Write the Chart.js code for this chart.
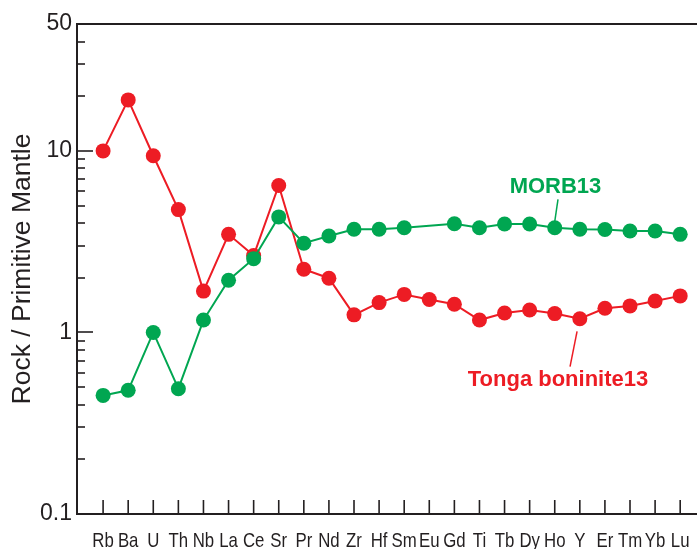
<!DOCTYPE html>
<html>
<head>
<meta charset="utf-8">
<title>Rock / Primitive Mantle</title>
<script src="https://cdn.jsdelivr.net/npm/chart.js@4/dist/chart.umd.min.js"></script>
<style>
  html, body { margin: 0; padding: 0; background: #ffffff; }
  #wrap { width: 697px; height: 549px; }
</style>
</head>
<body>
<div id="wrap"><canvas id="spider" width="697" height="549"></canvas></div>
<script>
// Element order along the x axis
const categories = ['Rb','Ba','U','Th','Nb','La','Ce','Sr','Pr','Nd','Zr','Hf','Sm','Eu','Gd','Ti','Tb','Dy','Ho','Y','Er','Tm','Yb','Lu'];

// Primitive-mantle normalised abundances (null = not reported)
const morb13 = [0.45, 0.48, 1.00, 0.49, 1.17, 1.94, 2.55, 4.33, 3.10, 3.40, 3.70, 3.70, 3.77, null, 3.97, 3.77, 3.96, 3.96, 3.77, 3.70, 3.69, 3.62, 3.62, 3.47];
const tongaBoninite13 = [10.0, 19.1, 9.4, 4.75, 1.69, 3.47, 2.65, 6.45, 2.23, 1.99, 1.25, 1.46, 1.62, 1.52, 1.43, 1.17, 1.28, 1.33, 1.27, 1.19, 1.36, 1.40, 1.49, 1.59];

// Labelled y ticks and the unlabelled minor ticks of the log axis
const yTickLabels = [0.1, 1, 10, 50];
const yMinorTicks = [0.2, 0.3, 0.4, 0.5, 0.6, 0.7, 0.8, 0.9, 2, 3, 4, 5, 6, 7, 8, 9, 20, 30, 40];

const INK = '#231f20';
const RED = '#ed1c24';
const GREEN = '#00a651';
const SANS = '"Liberation Sans", Arial, Helvetica, sans-serif';

// Series name tags with leader lines, anchored in data units
const seriesTags = [
  { text: 'MORB13', color: GREEN, at: [18.03, 5.85], leader: [[18.13, 5.40], [18.0, 4.08]] },
  { text: 'Tonga boninite13', color: RED, at: [18.13, 0.51], leader: [[18.89, 1.015], [18.61, 0.648]] }
];

const toPoints = arr => arr.map((v, i) => ({ x: i, y: v }));

const axisDecor = {
  id: 'axisDecor',
  afterDraw(chart) {
    const { ctx, chartArea: a, scales: { x, y } } = chart;
    ctx.save();
    ctx.strokeStyle = INK;
    ctx.lineCap = 'butt';

    // top frame line
    ctx.lineWidth = 2;
    ctx.beginPath();
    ctx.moveTo(a.left - 1, a.top);
    ctx.lineTo(chart.width, a.top);
    ctx.stroke();

    // inward ticks on the log axis
    ctx.lineWidth = 1.6;
    const yTick = (v, len) => {
      const py = Math.round(y.getPixelForValue(v));
      ctx.beginPath();
      ctx.moveTo(a.left, py);
      ctx.lineTo(a.left + len, py);
      ctx.stroke();
    };
    yTickLabels.filter(v => v !== 50 && v !== 0.1).forEach(v => yTick(v, 16));
    yMinorTicks.forEach(v => yTick(v, 8));

    // inward ticks and condensed element labels along the x axis
    ctx.fillStyle = INK;
    ctx.font = '21px ' + SANS;
    ctx.textAlign = 'center';
    ctx.textBaseline = 'alphabetic';
    categories.forEach((name, i) => {
      const px = x.getPixelForValue(i);
      ctx.beginPath();
      ctx.moveTo(px, a.bottom);
      ctx.lineTo(px, a.bottom - 14);
      ctx.stroke();
      ctx.save();
      ctx.translate(px, a.bottom + 33);
      ctx.scale(0.8, 1);
      ctx.fillText(name, 0, 0);
      ctx.restore();
    });

    // series tags
    seriesTags.forEach(t => {
      ctx.strokeStyle = t.color;
      ctx.lineWidth = 1.5;
      ctx.beginPath();
      ctx.moveTo(x.getPixelForValue(t.leader[0][0]), y.getPixelForValue(t.leader[0][1]));
      ctx.lineTo(x.getPixelForValue(t.leader[1][0]), y.getPixelForValue(t.leader[1][1]));
      ctx.stroke();
      ctx.fillStyle = t.color;
      ctx.font = 'bold 22px ' + SANS;
      ctx.textAlign = 'center';
      ctx.textBaseline = 'alphabetic';
      ctx.fillText(t.text, x.getPixelForValue(t.at[0]), y.getPixelForValue(t.at[1]));
    });
    ctx.restore();
  }
};

new Chart(document.getElementById('spider'), {
  type: 'line',
  data: {
    datasets: [
      {
        label: 'MORB13',
        data: toPoints(morb13),
        borderColor: GREEN,
        backgroundColor: GREEN,
        pointBackgroundColor: GREEN,
        borderWidth: 2,
        pointRadius: 7.5,
        pointBorderWidth: 0,
        spanGaps: true,
        order: 0
      },
      {
        label: 'Tonga boninite13',
        data: toPoints(tongaBoninite13),
        borderColor: RED,
        backgroundColor: RED,
        pointBackgroundColor: RED,
        borderWidth: 2,
        pointRadius: 7.5,
        pointBorderWidth: 0,
        order: 1
      }
    ]
  },
  options: {
    responsive: false,
    animation: false,
    devicePixelRatio: 1,
    clip: false,
    layout: { autoPadding: false, padding: { top: 24, right: 0, left: 0, bottom: 0 } },
    plugins: { legend: { display: false }, tooltip: { enabled: false } },
    elements: { line: { tension: 0 } },
    scales: {
      x: {
        type: 'linear',
        min: -1.04,
        max: 23.67,
        afterBuildTicks: s => { s.ticks = categories.map((_, i) => ({ value: i })); },
        afterFit: s => { s.height = 35; s.paddingLeft = 0; s.paddingRight = 0; },
        ticks: { display: false },
        grid: { display: false, drawTicks: false },
        border: { display: true, color: INK, width: 2 }
      },
      y: {
        type: 'logarithmic',
        min: 0.1,
        max: 50,
        afterBuildTicks: s => { s.ticks = yTickLabels.map(v => ({ value: v })); },
        afterFit: s => { s.width = 77; },
        ticks: {
          padding: 5,
          color: INK,
          font: { family: SANS, size: 23 },
          callback: v => String(v)
        },
        title: {
          display: true,
          text: 'Rock / Primitive Mantle',
          color: INK,
          font: { family: SANS, size: 26.5 },
          padding: { top: 7, bottom: 0 }
        },
        grid: { display: false, drawTicks: false },
        border: { display: true, color: INK, width: 2 }
      }
    }
  },
  plugins: [axisDecor]
});
</script>
</body>
</html>
